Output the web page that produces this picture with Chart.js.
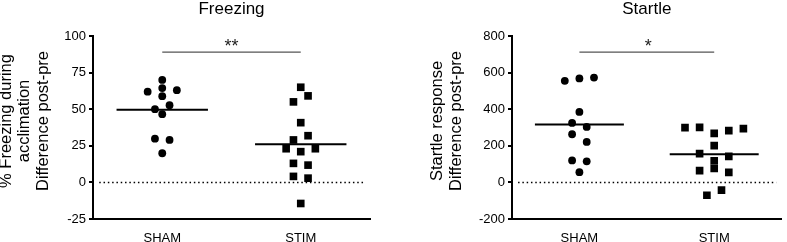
<!DOCTYPE html>
<html><head><meta charset="utf-8">
<script src="https://cdn.jsdelivr.net/npm/chart.js@4.4.0/dist/chart.umd.min.js"></script>
<style>
html,body{margin:0;padding:0;background:#fff;overflow:hidden;width:787px;height:242px}
#c1{position:absolute;left:0;top:0}
#c2{position:absolute;left:400px;top:0}
</style></head><body>
<canvas id="c1" width="394" height="242"></canvas>
<canvas id="c2" width="387" height="242"></canvas>
<script>
// ---- data ----
const categories = ['SHAM', 'STIM'];
const freezingSham = [70, 62, 64.4, 63, 58.9, 50, 52.7, 46.6, 29.9, 29, 19.9];
const freezingStim = [65, 55, 59.1, 40.8, 29, 31.9, 23, 21, 23, 13, 11.8, 4.1, 2.9, -14.4];
const startleSham = [555, 568, 573, 385, 325, 303, 263, 221, 120, 115, 56];
const startleStim = [299, 301, 268, 283, 294, 201, 157, 118, 142, 64, 77, 55, -70, -42];
const freezingTicks = [-25, 0, 25, 50, 75, 100];
const startleTicks = [-200, 0, 200, 400, 600, 800];
const freezingTitle = 'Freezing';
const startleTitle = 'Startle';
const freezingYTitle = ['% Freezing during', 'acclimation', 'Difference post-pre'];
const startleYTitle = ['Startle response', 'Difference post-pre'];
const freezingSig = '**';
const startleSig = '*';
const freezingSigLevel = 89;
const startleSigLevel = 712;

// ---- layout constants ----
const FONT = "'Liberation Sans', Arial, Helvetica, sans-serif";
const ROW_SPACING = 14.6; // px between neighbouring points in a swarm row
const ROW_HEIGHT = 7.8;   // px height of a swarm row
const MEAN_HALF = 0.33;   // half width of mean bar in category units

function mean(a) { return a.reduce((s, v) => s + v, 0) / a.length; }

const annot = {
  id: 'annot',
  afterDraw(chart, args, o) {
    const {ctx, chartArea: a, scales: {x, y}} = chart;
    ctx.save();
    ctx.fillStyle = '#000';
    ctx.textAlign = 'center';
    ctx.textBaseline = 'middle';
    ctx.font = `17px ${FONT}`;
    ctx.fillText(o.title, (a.left + a.right) / 2, 9);
    // significance stars
    ctx.textBaseline = 'alphabetic';
    ctx.font = `18px ${FONT}`;
    ctx.fillStyle = '#222';
    ctx.fillText(o.sig, x.getPixelForValue(1.5) + o.sigDx, y.getPixelForValue(o.sigLevel) - 0.5);
    // y title
    ctx.fillStyle = '#000';
    ctx.textBaseline = 'middle';
    ctx.font = `16.5px ${FONT}`;
    const n = o.yTitle.length;
    o.yTitle.forEach((line, i) => {
      const cx = a.left - o.yTitleGap - (n - 1 - i) * 18.5;
      ctx.save();
      ctx.translate(cx, 121);
      ctx.rotate(-Math.PI / 2);
      ctx.fillText(line, 0, 0);
      ctx.restore();
    });
    ctx.restore();
  }
};

function makeChart(id, groups, ticks, opts) {
  const datasets = [];
  const swarmIdx = [];
  groups.forEach((g, i) => {
    swarmIdx.push(datasets.length);
    datasets.push({
      data: g.values.map(v => ({x: i + 1, y: v})),
      pointStyle: g.style, pointRadius: g.radius, pointHoverRadius: g.radius,
      backgroundColor: '#000', borderColor: '#000', borderWidth: 0, showLine: false
    });
  });
  groups.forEach((g, i) => {
    const m = mean(g.values);
    datasets.push({data: [{x: i + 1 - MEAN_HALF, y: m}, {x: i + 1 + MEAN_HALF, y: m}],
      showLine: true, borderColor: '#000', borderWidth: 2, pointRadius: 0});
  });
  datasets.push({data: [{x: 1, y: opts.sigLevel}, {x: 2, y: opts.sigLevel}],
    showLine: true, borderColor: '#555', borderWidth: 1.4, pointRadius: 0});
  datasets.push({data: [{x: 0.545, y: 0}, {x: 2.46, y: 0}],
    showLine: true, borderColor: '#000', borderWidth: 1.5, borderDash: [1.5, 2.8], pointRadius: 0});

  const chart = new Chart(document.getElementById(id), {
    type: 'scatter',
    data: {datasets},
    plugins: [annot],
    options: {
      responsive: false, animation: false, devicePixelRatio: 1, events: [],
      layout: {padding: {top: 36, left: 0, right: opts.padRight, bottom: 0}},
      plugins: {legend: {display: false}, tooltip: {enabled: false},
        annot: {title: opts.title, sig: opts.sig, sigLevel: opts.sigLevel, sigDx: opts.sigDx,
          yTitle: opts.yTitle, yTitleGap: opts.yTitleGap}},
      scales: {
        x: {
          type: 'linear', min: 0.5, max: 2.5,
          grid: {display: false},
          border: {display: true, color: '#000', width: 2},
          afterBuildTicks: s => { s.ticks = categories.map((c, i) => ({value: i + 1})); },
          ticks: {callback: v => categories[v - 1] || '', font: {family: FONT, size: 13},
            color: '#000', padding: 4, maxRotation: 0, autoSkip: false},
          afterFit: s => { s.height = 23; }
        },
        y: {
          type: 'linear', min: ticks[0], max: ticks[ticks.length - 1],
          afterBuildTicks: s => { s.ticks = ticks.map(v => ({value: v})); },
          grid: {drawOnChartArea: false, drawTicks: true, tickLength: 4, color: '#000', lineWidth: 2},
          border: {display: true, color: '#000', width: 2},
          ticks: {font: {family: FONT, size: 13}, color: '#000', padding: 3},
          afterFit: s => { s.width = opts.yWidth; }
        }
      }
    }
  });

  // beeswarm layout computed from the values through the chart's scales
  const xs = chart.scales.x, ys = chart.scales.y;
  const step = ROW_SPACING / (xs.getPixelForValue(2) - xs.getPixelForValue(1));
  groups.forEach((g, gi) => {
    const vals = g.values;
    const order = vals.map((v, i) => i).sort((a, b) => vals[b] - vals[a] || a - b);
    const rows = [];
    let cur = null, start = 0;
    order.forEach(i => {
      const p = ys.getPixelForValue(vals[i]);
      if (!cur || p - start >= ROW_HEIGHT) { cur = []; rows.push(cur); start = p; }
      cur.push(i);
    });
    const pts = chart.data.datasets[swarmIdx[gi]].data;
    rows.forEach(r => {
      r.sort((a, b) => a - b);
      r.forEach((i, k) => { pts[i].x = gi + 1 + (k - (r.length - 1) / 2) * step; });
    });
  });
  chart.update('none');
  return chart;
}

makeChart('c1', [
  {values: freezingSham, style: 'circle', radius: 3.9},
  {values: freezingStim, style: 'rect', radius: 5.4}
], freezingTicks, {title: freezingTitle, sig: freezingSig, sigLevel: freezingSigLevel, sigDx: 0,
  yTitle: freezingYTitle, yTitleGap: 50, yWidth: 93, padRight: 24});

makeChart('c2', [
  {values: startleSham, style: 'circle', radius: 3.9},
  {values: startleStim, style: 'rect', radius: 5.4}
], startleTicks, {title: startleTitle, sig: startleSig, sigLevel: startleSigLevel, sigDx: 1.5,
  yTitle: startleYTitle, yTitleGap: 56, yWidth: 112, padRight: 0});
</script>
</body></html>
